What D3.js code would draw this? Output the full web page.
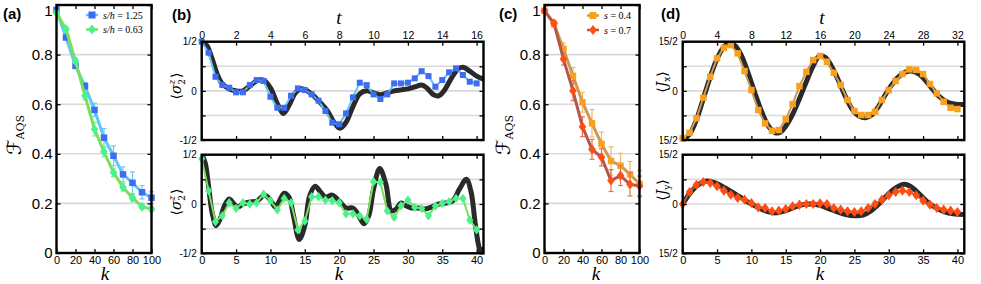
<!DOCTYPE html>
<html>
<head>
<meta charset="utf-8">
<script src="https://cdn.jsdelivr.net/npm/d3@7"></script>
<style>
  body { margin: 0; background: #fff; }
  svg { display: block; }
</style>
</head>
<body>
<svg id="fig" width="981" height="284"></svg>
<script>
// ---------- data ----------
// (a) and (c): fidelity vs number of steps k
const kFid = [0, 10, 20, 30, 40, 50, 60, 70, 80, 90, 100];
const fidBlue  = [0.980, 0.869, 0.755, 0.673, 0.577, 0.465, 0.392, 0.317, 0.283, 0.245, 0.223];
const errBlue  = [0.005, 0.008, 0.012, 0.015, 0.027, 0.037, 0.040, 0.030, 0.044, 0.027, 0.024];
const fidGreen = [0.969, 0.902, 0.774, 0.634, 0.499, 0.408, 0.325, 0.265, 0.222, 0.187, 0.177];
const errGreen = [0.005, 0.008, 0.010, 0.017, 0.027, 0.020, 0.017, 0.015, 0.012, 0.010, 0.010];
const fidOrange = [0.977, 0.923, 0.823, 0.714, 0.608, 0.523, 0.440, 0.371, 0.352, 0.317, 0.279];
const errOrange = [0.005, 0.010, 0.024, 0.034, 0.040, 0.055, 0.048, 0.057, 0.050, 0.052, 0.054];
const fidRed    = [0.977, 0.926, 0.782, 0.654, 0.509, 0.418, 0.386, 0.292, 0.312, 0.277, 0.270];
const errRed    = [0.005, 0.010, 0.024, 0.040, 0.040, 0.040, 0.035, 0.044, 0.040, 0.047, 0.040];

// (b) and (d): measured points at every step k = 0..40
const kSteps = d3.range(0, 41);
const sigTop = [0.5, 0.388, 0.143, 0.059, 0.032, -0.015, -0.015, 0.059, 0.11, 0.10, -0.06,
  -0.172, -0.172, -0.05, 0.025, 0.008, -0.036, -0.10, -0.205, -0.324, -0.34, -0.229, -0.066,
  0.083, 0.059, -0.036, -0.083, -0.036, 0.076, 0.076, 0.083, 0.127, 0.20, 0.15, 0.042, 0.11,
  0.188, 0.229, 0.161, 0.093, 0.076];
const sigBot = [0.46, 0.135, -0.18, -0.12, 0.013, -0.044, 0.013, 0, 0.013, 0.1, 0.034, -0.06,
  0.057, 0.013, -0.263, -0.172, 0.074, 0.074, 0.04, 0.034, 0.013, -0.1, -0.1, -0.12, -0.155,
  0.226, 0.22, -0.07, -0.135, -0.017, 0.04, -0.034, -0.044, -0.12, -0.02, 0.007, 0.024, 0.057,
  0.057, -0.162, -0.263];
const jx = [-7.25, -6.39, -4.2, -1.05, 2.15, 4.96, 6.58, 6.99, 5.72, 3.02, 0.12, -2.93, -4.96,
  -6.09, -5.98, -4.35, -2.01, 0.73, 2.91, 4.7, 5.31, 4.44, 2.76, 0.89, -1.4, -3.08, -3.69, -3.69,
  -3.19, -1.4, 0.12, 1.5, 2.56, 3.28, 3.2, 2.56, 1.04, -0.38, -1.66, -2.58, -2.78];
const jy = [0, 1.82, 2.94, 3.34, 3.19, 2.69, 2.03, 1.42, 0.91, 0.66, 0.15, -0.51, -0.61, -1.11,
  -1.01, -0.76, -0.35, -0.1, 0, 0, 0.1, 0, -0.61, -0.86, -1.11, -1.22, -1.11, -0.61, 0, 0.66,
  1.32, 1.82, 2.03, 1.82, 1.32, 0.51, -0.1, -0.61, -0.86, -1.01, -1.22];

// theory curves (black)
const thSigTopT = [0, 0.3, 0.6, 0.9, 1.2, 1.6, 2.0, 2.4, 2.8, 3.2, 3.6, 4.0, 4.4, 4.75, 5.1, 5.5,
  5.9, 6.3, 6.8, 7.3, 7.7, 8.05, 8.4, 8.8, 9.2, 9.6, 10.0, 10.4, 10.8, 11.2, 11.6, 12.0, 12.4,
  12.8, 13.1, 13.5, 13.8, 14.1, 14.5, 14.9, 15.2, 15.6, 16.0, 16.4];
const thSigTopV = [0.5, 0.46, 0.33, 0.17, 0.07, 0.02, 0.0, 0.0, 0.05, 0.1, 0.11, 0.03, -0.13,
  -0.23, -0.14, -0.01, 0.02, -0.02, -0.1, -0.2, -0.32, -0.38, -0.32, -0.16, -0.03, 0.0, -0.02,
  -0.04, -0.02, 0.0, 0.01, 0.02, 0.04, 0.06, 0.03, -0.04, -0.05, 0.0, 0.12, 0.22, 0.24, 0.2,
  0.15, 0.12];
const thSigBotK = [0, 0.5, 1, 1.5, 2.1, 2.7, 3.3, 4, 4.7, 5.3, 6, 7, 8, 9.2, 10, 10.7, 11.3, 12,
  12.7, 13.3, 14.2, 15, 15.7, 16.5, 17.3, 18, 19, 20, 21, 22, 22.7, 23.6, 24.3, 25, 25.9, 26.8,
  27.6, 28.3, 29, 29.8, 30.5, 31.5, 32.5, 33.5, 34.5, 35.5, 36.5, 37.5, 38.5, 39.2, 39.8, 40.4,
  40.8, 41];
const thSigBotV = [0.5, 0.42, 0.18, -0.08, -0.22, -0.15, -0.02, 0.05, 0.0, -0.03, 0.0, 0.02,
  0.03, 0.09, 0.04, -0.03, 0.03, 0.11, 0.07, -0.1, -0.36, -0.22, 0.08, 0.18, 0.12, 0.07, 0.09,
  0.03, -0.04, -0.04, -0.1, -0.2, -0.12, 0.15, 0.36, 0.2, -0.07, -0.05, 0.01, -0.02, -0.04, -0.04,
  -0.05, -0.03, 0.0, 0.01, 0.03, 0.15, 0.25, 0.12, -0.2, -0.45, -0.5, -0.46];
const thJxT = [0, 0.8, 1.6, 2.4, 3.2, 4.0, 4.8, 5.4, 6.0, 6.8, 7.6, 8.4, 9.2, 10.0, 10.8, 11.4,
  12.0, 12.8, 13.6, 14.4, 15.2, 15.9, 16.6, 17.4, 18.2, 19.0, 19.8, 20.6, 21.3, 22.0, 22.8, 23.6,
  24.4, 25.2, 26.0, 26.8, 27.6, 28.4, 29.2, 30.0, 30.8, 31.6, 32.8];
const thJxV = [-7.5, -6.6, -4.4, -1.2, 2.1, 4.9, 6.7, 7.3, 7.0, 5.5, 2.8, -0.3, -3.2, -5.4, -6.4,
  -6.3, -5.4, -3.6, -1.2, 1.4, 3.8, 5.3, 5.1, 3.6, 1.4, -1.0, -2.9, -3.9, -4.1, -3.7, -2.4, -0.6,
  1.0, 2.2, 2.9, 3.0, 2.5, 1.4, 0.1, -1.0, -1.7, -2.0, -2.1];
const thJyT = [0, 1, 2, 2.8, 4, 5, 6, 7, 8, 9, 10, 10.8, 12, 13, 14, 15, 16, 17, 18, 19, 20, 21,
  22, 23, 24, 25, 25.8, 26.5, 27.5, 28.5, 29.5, 30.5, 31.5, 32.8];
const thJyV = [0, 1.9, 3.1, 3.5, 3.1, 2.4, 1.6, 0.8, 0.0, -0.7, -1.2, -1.35, -1.0, -0.5, -0.1,
  0.0, -0.2, -0.7, -1.2, -1.6, -1.8, -1.7, -1.0, 0.2, 1.6, 2.6, 3.0, 2.7, 1.6, 0.3, -0.6, -1.2,
  -1.5, -1.6];

// tick labels
const fidTicks = [0, 0.2, 0.4, 0.6, 0.8, 1];
const kFidTicks = [0, 20, 40, 60, 80, 100];
const kStepTicks = [0, 5, 10, 15, 20, 25, 30, 35, 40];
const tTicksB = [0, 2, 4, 6, 8, 10, 12, 14, 16];
const tTicksD = [0, 4, 8, 12, 16, 20, 24, 28, 32];
const halfLabels = ['-1/2', '', '0', '', '1/2'];
const jLabels = ['-15/2', '', '0', '', '15/2'];

// ---------- drawing ----------
const SANS = 'Liberation Sans, Arial, Helvetica, sans-serif';
const SERIF = 'Liberation Serif, DejaVu Serif, Times New Roman, serif';
const MATH = 'DejaVu Serif, DejaVu Sans, serif';
const colors = {
  blue: '#3d6df2', blueLine: '#5ec6f6', blueErr: '#6cc8f8',
  green: '#4af28c', greenLine: '#78e05a', greenErr: '#7eef9a',
  orange: '#f9a11f', orangeLine: '#cc9a52', orangeErr: '#f2b56a',
  red: '#ff4e14', redLine: '#b4584c', redErr: '#e8704e',
  theory: '#2a2a2a', grid: '#d9d9d9'
};

const svg = d3.select('#fig');
let clipId = 0;

function styleAxis(sel, size) {
  sel.select('.domain').remove();
  sel.selectAll('.tick line').attr('stroke', '#000').attr('stroke-width', 1.3);
  sel.selectAll('.tick text').attr('font-family', SANS).attr('font-size', size).attr('fill', '#000');
}

// frame, grid and inward ticks for one subplot
function setupBox(x, y, o) {
  const [x0, x1] = x.range();
  const [yb, yt] = y.range();
  const g = svg.append('g');
  g.append('g').selectAll('line').data(o.grid).join('line')
    .attr('x1', x0).attr('x2', x1)
    .attr('y1', d => y(d)).attr('y2', d => y(d))
    .attr('stroke', colors.grid).attr('stroke-width', 1.6);

  const id = 'clip' + (clipId++);
  svg.append('clipPath').attr('id', id).append('rect')
    .attr('x', x0).attr('y', yt).attr('width', x1 - x0).attr('height', yb - yt);

  const data = g.append('g');
  const frame = () => {
    const xb = o.xBottom || x, xt = o.xTop || x;
    const ab = d3.axisBottom(xb).tickValues(o.xbTicks).tickSize(-4).tickPadding(3)
      .tickFormat(o.xbLabels ? d3.format('d') : '');
    styleAxis(g.append('g').attr('transform', `translate(0,${yb})`).call(ab), o.xFont);
    const at = d3.axisTop(xt).tickValues(o.xtTicks).tickSize(-4).tickPadding(3)
      .tickFormat(o.xtLabels ? d3.format('d') : '');
    styleAxis(g.append('g').attr('transform', `translate(0,${yt})`).call(at), o.xtFont || o.xFont);
    const al = d3.axisLeft(y).tickValues(o.yTicks).tickSize(-4).tickPadding(o.yPad || 4)
      .tickFormat((d, i) => o.yFormat(d, i));
    const wrap = g.append('g');
    if (o.yClip) wrap.attr('clip-path', `url(#${o.yClip})`);
    const gl = wrap.append('g').attr('transform', `translate(${x0},0)`).call(al);
    styleAxis(gl, o.yFont);
    // the top label of the fidelity axes sits a little lower, as in the figure
    if (o.nudgeTop) gl.selectAll('.tick text').attr('dy', d => d === 1 ? '0.72em' : '0.32em');
    const ar = d3.axisRight(y).tickValues(o.yTicks).tickSize(-4).tickFormat('');
    styleAxis(g.append('g').attr('transform', `translate(${x1},0)`).call(ar), o.yFont);
    g.append('rect').attr('x', x0).attr('y', yt).attr('width', x1 - x0).attr('height', yb - yt)
      .attr('fill', 'none').attr('stroke', '#000').attr('stroke-width', 2.4);
  };
  return { g: data, clip: `url(#${id})`, frame };
}

function marker(g, shape, cx, cy, color, s) {
  if (shape === 'square') {
    g.append('rect').attr('x', cx - s / 2).attr('y', cy - s / 2).attr('width', s).attr('height', s)
      .attr('fill', color);
  } else {
    const w = s * 0.55, h = s * 0.72;
    g.append('path').attr('d', `M${cx},${cy - h}L${cx + w},${cy}L${cx},${cy + h}L${cx - w},${cy}Z`)
      .attr('fill', color);
  }
}

function series(g, x, y, xs, ys, o) {
  const pts = xs.map((d, i) => [x(d), y(ys[i])]);
  if (o.err) {
    const eg = g.append('g').attr('stroke', o.errColor).attr('stroke-width', 1.2);
    xs.forEach((d, i) => {
      const px = x(d), lo = y(ys[i] - o.err[i]), hi = y(ys[i] + o.err[i]);
      eg.append('line').attr('x1', px).attr('x2', px).attr('y1', lo).attr('y2', hi);
      eg.append('line').attr('x1', px - 2.5).attr('x2', px + 2.5).attr('y1', lo).attr('y2', lo);
      eg.append('line').attr('x1', px - 2.5).attr('x2', px + 2.5).attr('y1', hi).attr('y2', hi);
    });
  }
  g.append('path').attr('d', d3.line()(pts)).attr('fill', 'none')
    .attr('stroke', o.line).attr('stroke-width', o.lineWidth || 2).attr('stroke-linejoin', 'round');
  pts.forEach(p => marker(g, o.shape, p[0], p[1], o.color, o.size));
}

function theory(box, x, y, xs, ys) {
  const line = d3.line().curve(d3.curveCatmullRom.alpha(0.5));
  box.g.append('path').attr('clip-path', box.clip)
    .attr('d', line(xs.map((d, i) => [x(d), y(ys[i])])))
    .attr('fill', 'none').attr('stroke', colors.theory).attr('stroke-width', 5)
    .attr('stroke-linecap', 'round').attr('stroke-linejoin', 'round');
}

function panelLetter(x, y, s) {
  svg.append('text').attr('x', x).attr('y', y).attr('font-family', SANS).attr('font-weight', 'bold')
    .attr('font-size', 15).text(s);
}

function italicLabel(x, y, s) {
  svg.append('text').attr('x', x).attr('y', y).attr('text-anchor', 'middle')
    .attr('font-family', SERIF).attr('font-style', 'italic').attr('font-size', 19).text(s);
}

function fidLabel(x, y) {
  const t = svg.append('g').attr('transform', `translate(${x},${y}) rotate(-90)`)
    .append('text').attr('text-anchor', 'middle').attr('font-family', MATH);
  t.append('tspan').attr('font-size', 20).attr('font-style', 'italic').text('ℱ');
  t.append('tspan').attr('font-size', 11).attr('dy', 3).text('AQS');
}

function braLabel(x, y, sym, sub, sup) {
  const t = svg.append('g').attr('transform', `translate(${x},${y}) rotate(-90)`)
    .append('text').attr('text-anchor', 'middle').attr('font-family', MATH).attr('font-size', 14);
  t.append('tspan').text('⟨');
  t.append('tspan').attr('font-style', 'italic').text(sym);
  if (sup) {
    t.append('tspan').attr('font-size', 9).attr('font-style', 'italic').attr('dy', -6).text(sup);
    t.append('tspan').attr('font-size', 9).attr('dx', -5).attr('dy', 10).text(sub);
    t.append('tspan').attr('dy', -4).attr('dx', 1).text('⟩');
  } else {
    t.append('tspan').attr('font-size', 9).attr('dy', 3).text(sub);
    t.append('tspan').attr('dy', -3).text('⟩');
  }
}

function legend(x, y, items) {
  items.forEach((it, i) => {
    const yy = y + i * 14.5;
    svg.append('line').attr('x1', x - 6).attr('x2', x + 6).attr('y1', yy).attr('y2', yy)
      .attr('stroke', it.line).attr('stroke-width', 2.5);
    marker(svg, it.shape, x, yy, it.color, 7);
    const t = svg.append('text').attr('x', x + 11).attr('y', yy + 3.5)
      .attr('font-family', SERIF).attr('font-size', 10);
    t.append('tspan').attr('font-style', 'italic').text(it.name);
    t.append('tspan').text(' = ' + it.value);
  });
}

const fidFmt = d => (d === 0 || d === 1) ? String(d) : d.toFixed(1);

// ----- (a) -----
{
  const x = d3.scaleLinear().domain([0, 100]).range([56.5, 151.5]);
  const y = d3.scaleLinear().domain([0, 1]).range([253, 5]);
  const b = setupBox(x, y, { grid: [0.2, 0.4, 0.6, 0.8], xbTicks: kFidTicks, xbLabels: true,
    xtTicks: kFidTicks, yTicks: fidTicks, yFormat: fidFmt, yFont: 15, xFont: 11, yPad: 4,
    nudgeTop: true });
  series(b.g, x, y, kFid, fidBlue, { err: errBlue, errColor: colors.blueErr, line: colors.blueLine,
    lineWidth: 3, shape: 'square', color: colors.blue, size: 6.5 });
  series(b.g, x, y, kFid, fidGreen, { err: errGreen, errColor: colors.greenErr, line: colors.greenLine,
    lineWidth: 3, shape: 'diamond', color: colors.green, size: 7 });
  b.frame();
  legend(92, 15, [
    { name: 's/h', value: '1.25', shape: 'square', color: colors.blue, line: colors.blueLine },
    { name: 's/h', value: '0.63', shape: 'diamond', color: colors.green, line: colors.greenLine }
  ]);
  panelLetter(3, 19, '(a)');
  fidLabel(21, 135);
  italicLabel(105, 280, 'k');
}

// ----- (c) -----
{
  const x = d3.scaleLinear().domain([0, 100]).range([544.5, 639.5]);
  const y = d3.scaleLinear().domain([0, 1]).range([253, 5]);
  const b = setupBox(x, y, { grid: [0.2, 0.4, 0.6, 0.8], xbTicks: kFidTicks, xbLabels: true,
    xtTicks: kFidTicks, yTicks: fidTicks, yFormat: fidFmt, yFont: 15, xFont: 11, yPad: 4,
    nudgeTop: true });
  series(b.g, x, y, kFid, fidOrange, { err: errOrange, errColor: colors.orangeErr, line: colors.orangeLine,
    lineWidth: 3, shape: 'square', color: colors.orange, size: 6.5 });
  series(b.g, x, y, kFid, fidRed, { err: errRed, errColor: colors.redErr, line: colors.redLine,
    lineWidth: 3, shape: 'diamond', color: colors.red, size: 7 });
  b.frame();
  legend(593, 15.5, [
    { name: 's', value: '0.4', shape: 'square', color: colors.orange, line: colors.orangeLine },
    { name: 's', value: '0.7', shape: 'diamond', color: colors.red, line: colors.redLine }
  ]);
  panelLetter(499, 19, '(c)');
  fidLabel(510, 135);
  italicLabel(596, 280, 'k');
}

// ----- (b) -----
{
  const xk = d3.scaleLinear().domain([0, 41]).range([201.7, 483.5]);
  const xt = d3.scaleLinear().domain([0, 16.4]).range([201.7, 483.5]);
  const fmt = (d, i) => halfLabels[i];
  const yTop = d3.scaleLinear().domain([-0.5, 0.5]).range([140, 41.7]);
  const top = setupBox(xk, yTop, { grid: [-0.25, 0, 0.25], xTop: xt, xbTicks: kStepTicks,
    xtTicks: tTicksB, xtLabels: true, yTicks: [-0.5, -0.25, 0, 0.25, 0.5], yFormat: fmt,
    yFont: 10, xFont: 11, xtFont: 10.5, yPad: 5 });
  theory(top, xt, yTop, thSigTopT, thSigTopV);
  series(top.g, xk, yTop, kSteps, sigTop, { line: colors.blueLine, lineWidth: 2,
    shape: 'square', color: colors.blue, size: 6 });
  top.frame();

  const yBot = d3.scaleLinear().domain([-0.5, 0.5]).range([253.3, 154.7]);
  const bot = setupBox(xk, yBot, { grid: [-0.25, 0, 0.25], xbTicks: kStepTicks, xbLabels: true,
    xtTicks: kStepTicks, yTicks: [-0.5, -0.25, 0, 0.25, 0.5], yFormat: fmt,
    yFont: 10, xFont: 11, yPad: 5 });
  theory(bot, xk, yBot, thSigBotK, thSigBotV);
  series(bot.g, xk, yBot, kSteps, sigBot, { line: colors.greenLine, lineWidth: 2,
    shape: 'diamond', color: colors.green, size: 6.5 });
  bot.frame();

  panelLetter(172, 20, '(b)');
  braLabel(181, 86, 'σ', '2', 'z');
  braLabel(181, 202, 'σ', '2', 'z');
  italicLabel(339, 24, 't');
  italicLabel(339, 280, 'k');
}

// ----- (d) -----
{
  svg.append('clipPath').attr('id', 'dclip').append('rect')
    .attr('x', 660).attr('y', 0).attr('width', 330).attr('height', 284);
  const xk = d3.scaleLinear().domain([0, 41]).range([682.7, 964.3]);
  const xt = d3.scaleLinear().domain([0, 32.8]).range([682.7, 964.3]);
  const fmt = (d, i) => jLabels[i];
  const yTicks = [-7.5, -3.75, 0, 3.75, 7.5];
  const yTop = d3.scaleLinear().domain([-7.5, 7.5]).range([140, 41.7]);
  const top = setupBox(xk, yTop, { grid: [-3.75, 0, 3.75], xTop: xt, xbTicks: kStepTicks,
    xtTicks: tTicksD, xtLabels: true, yTicks, yFormat: fmt, yFont: 10, xFont: 11, xtFont: 10.5,
    yPad: 5, yClip: 'dclip' });
  theory(top, xt, yTop, thJxT, thJxV);
  series(top.g, xk, yTop, kSteps, jx, { line: colors.orangeLine, lineWidth: 2,
    shape: 'square', color: colors.orange, size: 6.5 });
  top.frame();

  const yBot = d3.scaleLinear().domain([-7.5, 7.5]).range([253.3, 154.7]);
  const bot = setupBox(xk, yBot, { grid: [-3.75, 0, 3.75], xbTicks: kStepTicks, xbLabels: true,
    xtTicks: kStepTicks, yTicks, yFormat: fmt, yFont: 10, xFont: 11, yPad: 5, yClip: 'dclip' });
  theory(bot, xt, yBot, thJyT, thJyV);
  series(bot.g, xk, yBot, kSteps, jy, { line: colors.redLine, lineWidth: 2,
    shape: 'diamond', color: colors.red, size: 7 });
  bot.frame();

  panelLetter(661, 19, '(d)');
  italicLabel(822, 24, 't');
  italicLabel(820, 280, 'k');
  braLabel(667, 82, 'J', 'x');
  braLabel(667, 190, 'J', 'y');
}
</script>
</body>
</html>
